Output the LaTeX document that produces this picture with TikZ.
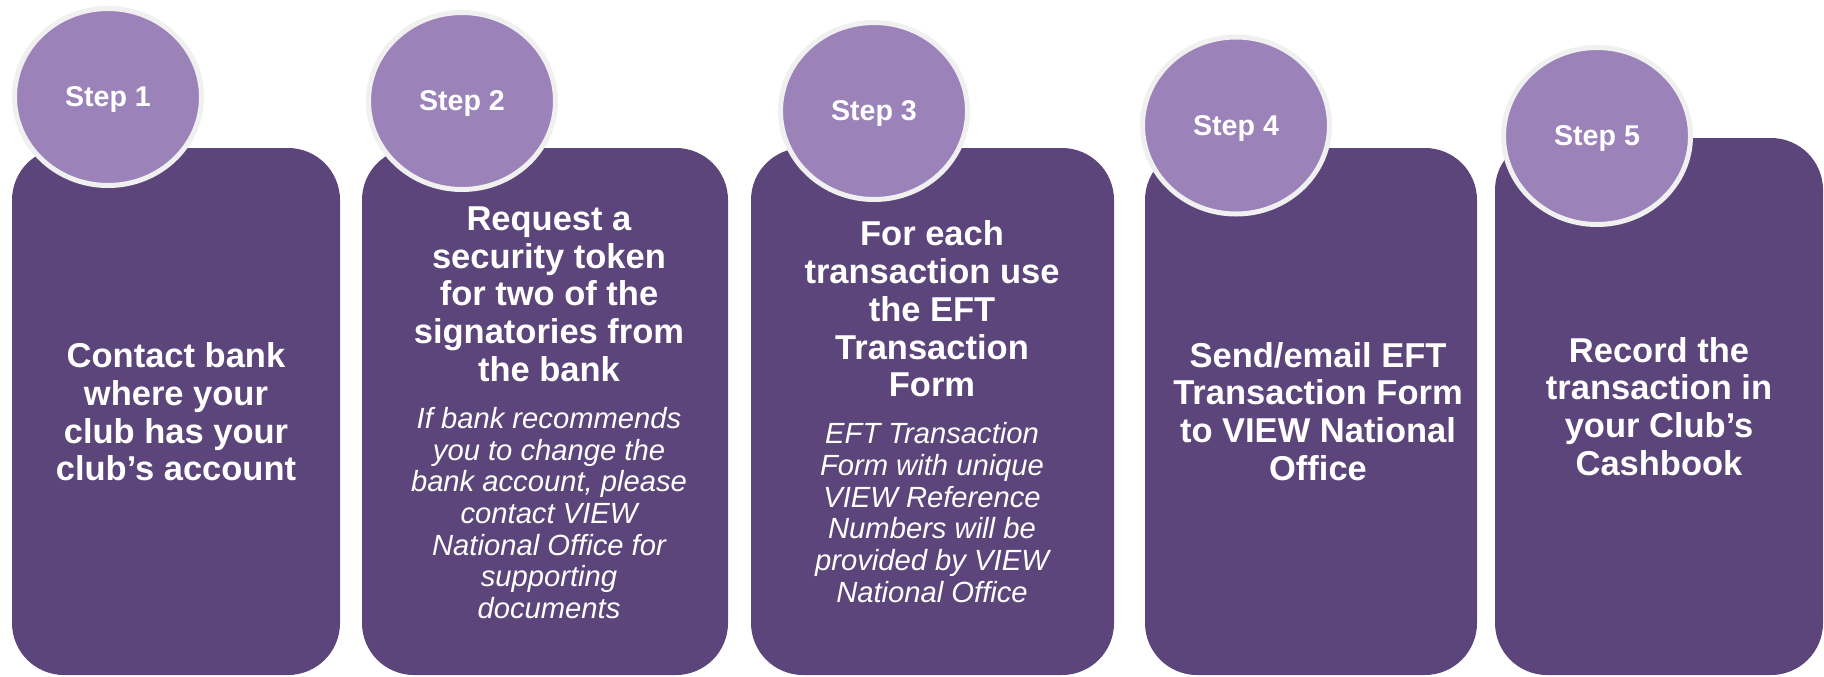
\documentclass[tikz,border=0pt]{standalone}
\usepackage{fontspec}
\setmainfont{Liberation Sans}
\usetikzlibrary{shapes.geometric}
\definecolor{boxpurple}{RGB}{92,69,122}
\definecolor{circpurple}{RGB}{155,131,185}
\definecolor{ringgray}{RGB}{240,240,240}
\begin{document}
\begin{tikzpicture}[x=0.5pt,y=-0.5pt,
  stepbox/.style={rectangle, fill=boxpurple, rounded corners=26pt, inner sep=0pt, minimum height=263.5pt},
  stepcirc/.style={ellipse, fill=circpurple, draw=ringgray, line width=2.5pt, minimum width=93.5pt, minimum height=88.5pt, inner sep=0pt, text depth=0pt, text=white, font=\fontsize{14.3pt}{16pt}\selectfont\bfseries},
  maintext/.style={text=white, align=center, inner sep=0pt, font=\fontsize{17.25pt}{18.85pt}\selectfont\bfseries},
  notetext/.style={text=white, align=center, inner sep=0pt, font=\fontsize{14.6pt}{15.85pt}\selectfont\itshape}]
\useasboundingbox (0,0) rectangle (1824,676);
% boxes
\node[stepbox, minimum width=164pt] (b1) at (176,411.5) {};
\node[stepbox, minimum width=183pt] (b2) at (545,411.5) {};
\node[stepbox, minimum width=181.5pt] (b3) at (932.5,411.5) {};
\node[stepbox, minimum width=166pt] (b4) at (1311,411.5) {};
\node[stepbox, minimum width=164pt, minimum height=268.5pt] (b5) at (1659,406.5) {};
% circles
\node[stepcirc] (c1) at (108,97) {Step 1};
\node[stepcirc] (c2) at (462,101) {Step 2};
\node[stepcirc] (c3) at (874,111) {Step 3};
\node[stepcirc] (c4) at (1236,125.5) {Step 4};
\node[stepcirc] (c5) at (1597,136) {Step 5};
% texts
\node[maintext] (t1) at (176,412) {Contact bank\\where your\\club has your\\club’s account};
\node[maintext] (t2) at (549,294) {Request a\\security token\\for two of the\\signatories from\\the bank};
\node[notetext] (n2) at (549,513) {If bank recommends\\you to change the\\bank account, please\\contact VIEW\\National Office for\\supporting\\documents};
\node[maintext] (t3) at (932,309) {For each\\transaction use\\the EFT\\Transaction\\Form};
\node[notetext] (n3) at (932,512.5) {EFT Transaction\\Form with unique\\VIEW Reference\\Numbers will be\\provided by VIEW\\National Office};
\node[maintext] (t4) at (1318,411.5) {Send/email EFT\\Transaction Form\\to VIEW National\\Office};
\node[maintext] (t5) at (1659,406.5) {Record the\\transaction in\\your Club’s\\Cashbook};
\end{tikzpicture}
\end{document}
